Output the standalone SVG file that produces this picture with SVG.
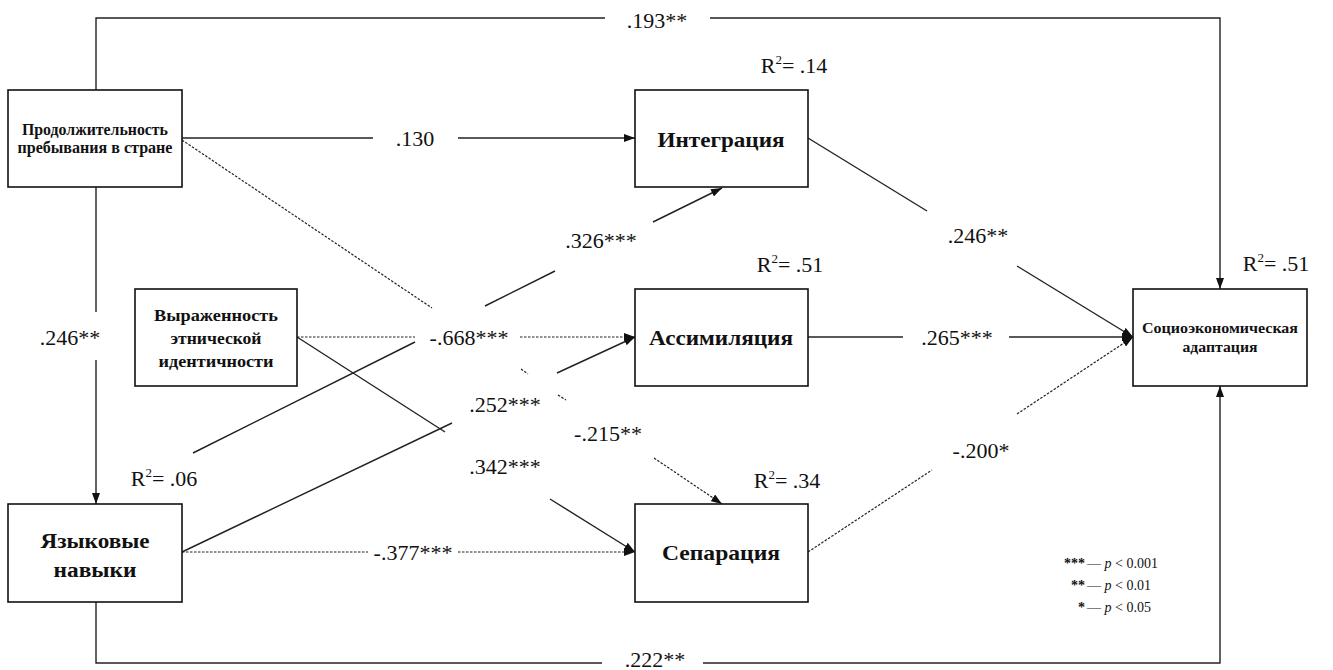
<svg xmlns="http://www.w3.org/2000/svg" width="1333" height="670" viewBox="0 0 1333 670">
<style>
.box{fill:#fff;stroke:#111;stroke-width:1.6}
.nt{font-family:'Liberation Serif','DejaVu Serif',serif;font-weight:bold;fill:#111;text-anchor:middle}
.lbl{font-family:'Liberation Serif','DejaVu Serif',serif;font-size:22px;fill:#111;text-anchor:middle}
.sol{fill:none;stroke:#222;stroke-width:1.4}
.dot{fill:none;stroke:#222;stroke-width:1.2;stroke-dasharray:2.5 1.5}
.leg{font-family:'Liberation Serif','DejaVu Serif',serif;font-size:14px;fill:#111}
</style>
<defs>
<marker id="ah" viewBox="0 0 11 8" refX="11" refY="4" markerWidth="11" markerHeight="8" orient="auto" markerUnits="userSpaceOnUse">
<path d="M0,0 L11,4 L0,8 z" fill="#111"/>
</marker>
</defs>
<rect width="1333" height="670" fill="#fff"/>

<g id="connectors">
<path class="sol" d="M96,90 V18 H605"/>
<path class="sol" d="M710,18 H1220 V289" marker-end="url(#ah)"/>
<path class="sol" d="M96,602 V663 H602"/>
<path class="sol" d="M703,663 H1220 V386" marker-end="url(#ah)"/>
<path class="sol" d="M96,187 V312"/>
<path class="sol" d="M96,360 V504" marker-end="url(#ah)"/>
<path class="sol" d="M182,138 H373"/>
<path class="sol" d="M458,138 H635" marker-end="url(#ah)"/>
<path class="dot" d="M182,140 L432,308"/>
<path class="dot" d="M521,369 L528,374"/>
<path class="dot" d="M558,395 L566,400"/>
<path class="dot" d="M654,458 L722,504" marker-end="url(#ah)"/>
<path class="sol" d="M193,453 L415,342"/>
<path class="sol" d="M485,306 L555,271"/>
<path class="sol" d="M653,222 L722,188" marker-end="url(#ah)"/>
<path class="dot" d="M297,337 H415"/>
<path class="dot" d="M520,337 H635" marker-end="url(#ah)"/>
<path class="sol" d="M182,552 L452,423"/>
<path class="sol" d="M557,373 L635,337" marker-end="url(#ah)"/>
<path class="sol" d="M297,337 L445,432"/>
<path class="sol" d="M550,499 L635,552" marker-end="url(#ah)"/>
<path class="dot" d="M182,552 H368"/>
<path class="dot" d="M458,552 H635" marker-end="url(#ah)"/>
<path class="sol" d="M808,138 L927,211"/>
<path class="sol" d="M1017,266 L1133,337" marker-end="url(#ah)"/>
<path class="sol" d="M808,337 H903"/>
<path class="sol" d="M1009,337 H1133" marker-end="url(#ah)"/>
<path class="dot" d="M808,552 L932,470"/>
<path class="dot" d="M1017,414 L1133,337" marker-end="url(#ah)"/>
</g>

<g id="edge-labels">
<text class="lbl" x="657" y="28">.193**</text>
<text class="lbl" x="415" y="146">.130</text>
<text class="lbl" x="70" y="345">.246**</text>
<text class="lbl" x="601" y="248">.326***</text>
<text class="lbl" x="469" y="345">-.668***</text>
<text class="lbl" x="505" y="412">.252***</text>
<text class="lbl" x="608" y="441">-.215**</text>
<text class="lbl" x="505" y="474">.342***</text>
<text class="lbl" x="413" y="560">-.377***</text>
<text class="lbl" x="978" y="243">.246**</text>
<text class="lbl" x="957" y="345">.265***</text>
<text class="lbl" x="981" y="458">-.200*</text>
<text class="lbl" x="655" y="667">.222**</text>
</g>

<g id="r2-labels">
<text class="lbl" x="794" y="73">R<tspan font-size="13" dy="-9">2</tspan><tspan dy="9">= .14</tspan></text>
<text class="lbl" x="790" y="272">R<tspan font-size="13" dy="-9">2</tspan><tspan dy="9">= .51</tspan></text>
<text class="lbl" x="787" y="488">R<tspan font-size="13" dy="-9">2</tspan><tspan dy="9">= .34</tspan></text>
<text class="lbl" x="164" y="486">R<tspan font-size="13" dy="-9">2</tspan><tspan dy="9">= .06</tspan></text>
<text class="lbl" x="1276" y="271">R<tspan font-size="13" dy="-9">2</tspan><tspan dy="9">= .51</tspan></text>
</g>

<g id="node-duration">
<rect class="box" x="8" y="90" width="174" height="97"/>
<text class="nt" font-size="16" x="95" y="135" textLength="146" lengthAdjust="spacingAndGlyphs">Продолжительность</text>
<text class="nt" font-size="16" x="95" y="153" textLength="155" lengthAdjust="spacingAndGlyphs">пребывания в стране</text>
</g>

<g id="node-ethnic">
<rect class="box" x="135" y="289" width="162" height="97"/>
<text class="nt" font-size="17" x="216" y="321" textLength="124" lengthAdjust="spacingAndGlyphs">Выраженность</text>
<text class="nt" font-size="17" x="216" y="344" textLength="91" lengthAdjust="spacingAndGlyphs">этнической</text>
<text class="nt" font-size="17" x="216" y="367" textLength="115" lengthAdjust="spacingAndGlyphs">идентичности</text>
</g>

<g id="node-language">
<rect class="box" x="8" y="504" width="174" height="98"/>
<text class="nt" font-size="20" x="95" y="548" textLength="109" lengthAdjust="spacingAndGlyphs">Языковые</text>
<text class="nt" font-size="20" x="95" y="577" textLength="83" lengthAdjust="spacingAndGlyphs">навыки</text>
</g>

<g id="node-integration">
<rect class="box" x="635" y="90" width="173" height="97"/>
<text class="nt" font-size="21" x="721" y="147" textLength="127" lengthAdjust="spacingAndGlyphs">Интеграция</text>
</g>

<g id="node-assimilation">
<rect class="box" x="635" y="289" width="173" height="97"/>
<text class="nt" font-size="21" x="721" y="345" textLength="144" lengthAdjust="spacingAndGlyphs">Ассимиляция</text>
</g>

<g id="node-separation">
<rect class="box" x="635" y="504" width="173" height="98"/>
<text class="nt" font-size="21" x="721" y="560" textLength="118" lengthAdjust="spacingAndGlyphs">Сепарация</text>
</g>

<g id="node-adaptation">
<rect class="box" x="1133" y="289" width="174" height="97"/>
<text class="nt" font-size="14" x="1220" y="333" textLength="156" lengthAdjust="spacingAndGlyphs">Социоэкономическая</text>
<text class="nt" font-size="14" x="1220" y="352" textLength="75" lengthAdjust="spacingAndGlyphs">адаптация</text>
</g>

<g id="legend">
<text class="leg" x="1085" y="568" text-anchor="end" font-weight="bold">***</text>
<text class="leg" x="1087" y="568">— <tspan font-style="italic">p</tspan> &lt; 0.001</text>
<text class="leg" x="1085" y="590" text-anchor="end" font-weight="bold">**</text>
<text class="leg" x="1087" y="590">— <tspan font-style="italic">p</tspan> &lt; 0.01</text>
<text class="leg" x="1085" y="612" text-anchor="end" font-weight="bold">*</text>
<text class="leg" x="1087" y="612">— <tspan font-style="italic">p</tspan> &lt; 0.05</text>
</g>
</svg>
